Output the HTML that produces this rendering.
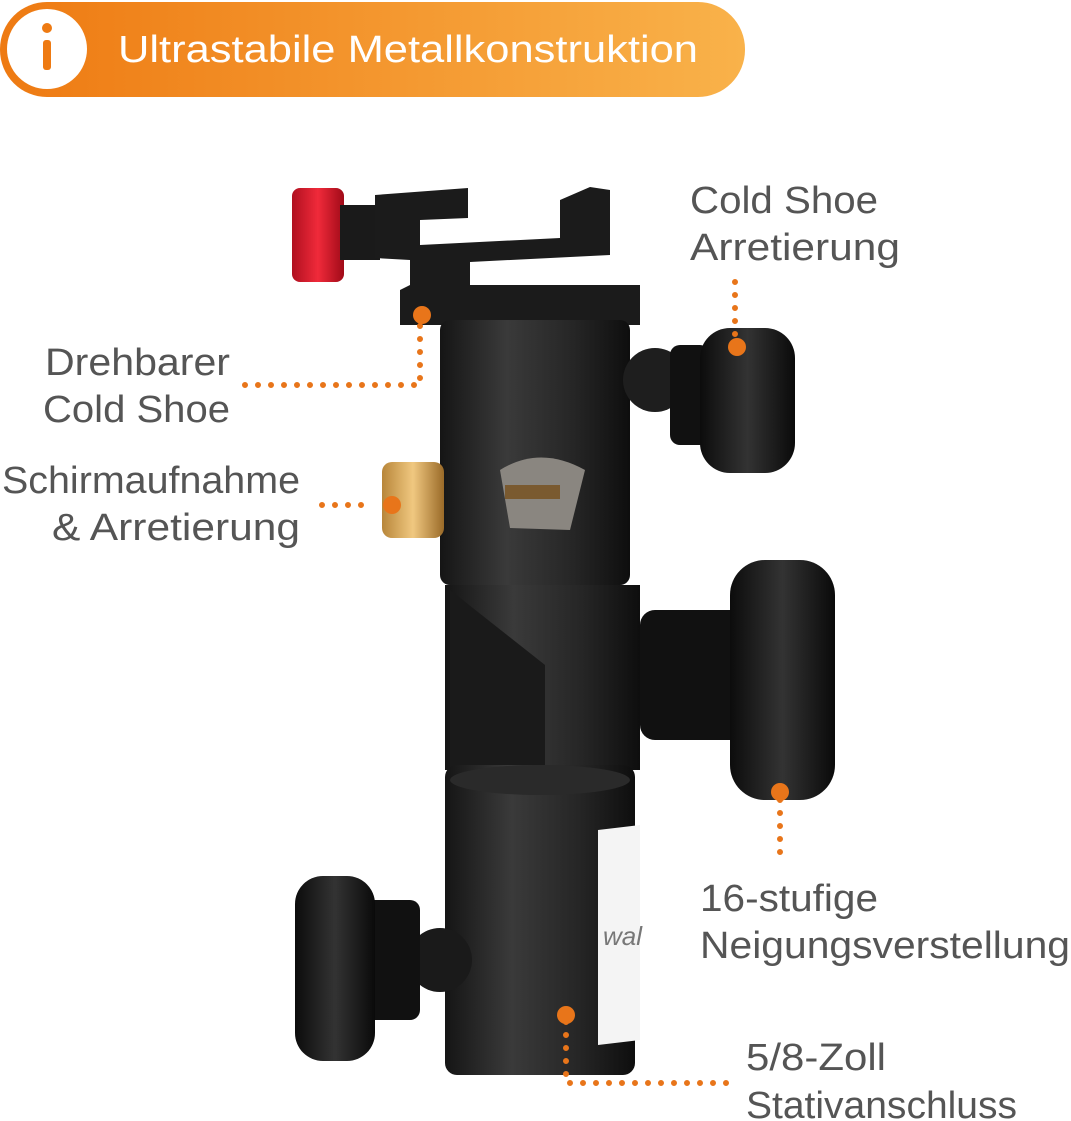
<!DOCTYPE html>
<html><head><meta charset="utf-8"><style>
html,body{margin:0;padding:0;background:#fff;}
svg{display:block;}
text{font-family:"Liberation Sans",sans-serif;}
</style></head><body>
<svg width="1071" height="1121" viewBox="0 0 1071 1121" xmlns="http://www.w3.org/2000/svg">
<defs>
<linearGradient id="hdr" x1="0" x2="1"><stop offset="0" stop-color="#ee7a12"/><stop offset="1" stop-color="#f9b24a"/></linearGradient>
<linearGradient id="cyl" x1="0" x2="1"><stop offset="0" stop-color="#151515"/><stop offset="0.35" stop-color="#3a3a3a"/><stop offset="0.7" stop-color="#262626"/><stop offset="1" stop-color="#0e0e0e"/></linearGradient>
<linearGradient id="knob" x1="0" x2="1"><stop offset="0" stop-color="#0c0c0c"/><stop offset="0.5" stop-color="#333"/><stop offset="1" stop-color="#0a0a0a"/></linearGradient>
<linearGradient id="brass" x1="0" x2="1"><stop offset="0" stop-color="#b8863a"/><stop offset="0.5" stop-color="#f0c880"/><stop offset="1" stop-color="#9a6a28"/></linearGradient>
<linearGradient id="red" x1="0" x2="1"><stop offset="0" stop-color="#b01020"/><stop offset="0.5" stop-color="#f02a3a"/><stop offset="1" stop-color="#a00a18"/></linearGradient>
</defs>
<rect x="0" y="2" width="745" height="95" rx="47" fill="url(#hdr)"/>
<circle cx="47" cy="49" r="40" fill="#fff"/>
<rect x="43" y="40" width="8" height="30" rx="3" fill="#ee7a12"/>
<circle cx="47" cy="28" r="5" fill="#ee7a12"/>
<text x="118" y="62" font-size="38" fill="#fff" textLength="580" lengthAdjust="spacingAndGlyphs">Ultrastabile Metallkonstruktion</text>

<rect x="292" y="188" width="52" height="94" rx="8" fill="url(#red)"/>
<rect x="340" y="205" width="40" height="55" fill="#1a1a1a"/>
<path d="M375 195 L468 188 L468 218 L420 220 L420 245 L560 238 L560 200 L590 187 L610 190 L610 255 L470 262 L470 285 L640 285 L640 325 L400 325 L400 290 L410 285 L410 260 L375 258 Z" fill="#1b1b1b"/>
<rect x="440" y="320" width="190" height="265" rx="10" fill="url(#cyl)"/>
<path d="M500 470 Q540 445 585 470 L570 530 L510 528 Z" fill="#8a8680"/>
<rect x="505" y="485" width="55" height="14" fill="#7a5a30"/>
<rect x="382" y="462" width="62" height="76" rx="10" fill="url(#brass)"/>
<circle cx="655" cy="380" r="32" fill="#1e1e1e"/>
<rect x="670" y="345" width="40" height="100" rx="10" fill="#111"/>
<rect x="700" y="328" width="95" height="145" rx="30" fill="url(#knob)"/>
<path d="M445 585 L640 585 L640 770 L445 770 Z" fill="url(#cyl)"/>
<path d="M450 590 L545 665 L545 770 L450 770 Z" fill="#1a1a1a"/>
<rect x="640" y="610" width="110" height="130" rx="15" fill="#111"/>
<rect x="730" y="560" width="105" height="240" rx="35" fill="url(#knob)"/>
<rect x="445" y="765" width="190" height="310" rx="12" fill="url(#cyl)"/>
<ellipse cx="540" cy="780" rx="90" ry="15" fill="#2a2a2a"/>
<path d="M598 830 L640 825 L640 1040 L598 1045 Z" fill="#f4f4f4"/>
<text x="603" y="945" font-size="26" fill="#777" font-style="italic">wal</text>
<circle cx="440" cy="960" r="32" fill="#1a1a1a"/>
<rect x="360" y="900" width="60" height="120" rx="10" fill="#111"/>
<rect x="295" y="876" width="80" height="185" rx="28" fill="url(#knob)"/>

<g stroke="#e8751a" stroke-width="6" stroke-linecap="round" stroke-dasharray="0 13" fill="none">
<path d="M245 385 L420 385 L420 322"/>
<path d="M322 505 L372 505"/>
<path d="M735 282 L735 340"/>
<path d="M780 800 L780 865"/>
<path d="M566 1022 L566 1083 L730 1083"/>
</g>
<g fill="#e8751a">
<circle cx="422" cy="315" r="9"/>
<circle cx="392" cy="505" r="9"/>
<circle cx="737" cy="347" r="9"/>
<circle cx="780" cy="792" r="9"/>
<circle cx="566" cy="1015" r="9"/>
</g>

<g font-size="38" fill="#555" lengthAdjust="spacingAndGlyphs">
<text x="690" y="213" textLength="188" lengthAdjust="spacingAndGlyphs">Cold Shoe</text>
<text x="690" y="260" textLength="210" lengthAdjust="spacingAndGlyphs">Arretierung</text>
<text x="45" y="375" textLength="185" lengthAdjust="spacingAndGlyphs">Drehbarer</text>
<text x="43" y="422" textLength="187" lengthAdjust="spacingAndGlyphs">Cold Shoe</text>
<text x="2" y="493" textLength="298" lengthAdjust="spacingAndGlyphs">Schirmaufnahme</text>
<text x="52" y="540" textLength="248" lengthAdjust="spacingAndGlyphs">&amp; Arretierung</text>
<text x="700" y="911" textLength="178" lengthAdjust="spacingAndGlyphs">16-stufige</text>
<text x="700" y="958" textLength="370" lengthAdjust="spacingAndGlyphs">Neigungsverstellung</text>
<text x="746" y="1070" textLength="140" lengthAdjust="spacingAndGlyphs">5/8-Zoll</text>
<text x="746" y="1118" textLength="271" lengthAdjust="spacingAndGlyphs">Stativanschluss</text>
</g>
</svg>
</body></html>
